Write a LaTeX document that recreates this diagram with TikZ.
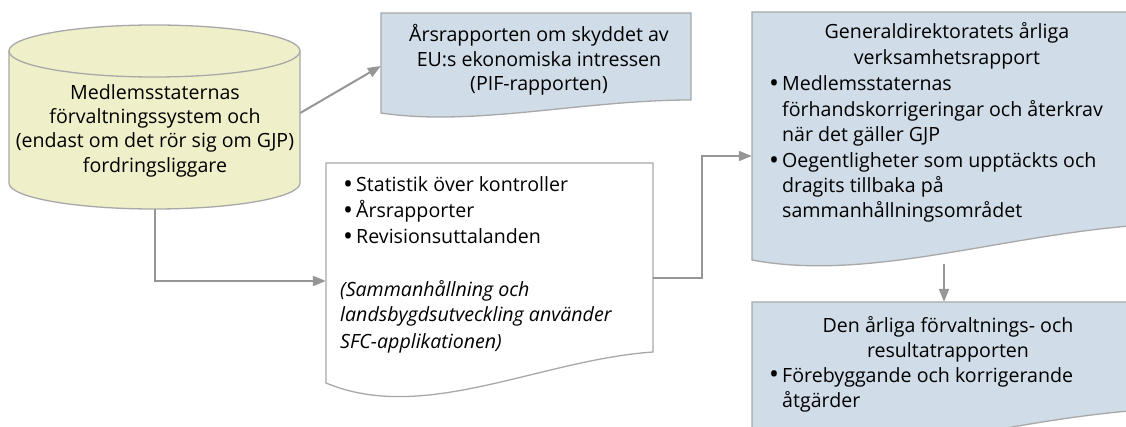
\documentclass[tikz,border=0pt]{standalone}
\usepackage{fontspec}
\setmainfont{Open Sans}
\usetikzlibrary{arrows.meta}
\definecolor{bd}{RGB}{168,168,168}
\definecolor{ac}{RGB}{150,150,150}
\definecolor{ylw}{RGB}{239,239,201}
\definecolor{blu}{RGB}{208,220,231}
\newcommand\bul{\makebox[13pt][l]{\raisebox{-1.8pt}{\scalebox{1.35}{\textbullet}}}}
\begin{document}
\begin{tikzpicture}[x=1pt,y=-1pt,
  txt/.style={inner sep=0pt, font=\fontsize{19.6}{24}\selectfont, text=black},
  shapeline/.style={draw=bd, line width=1.3pt},
  conn/.style={draw=ac, line width=2pt, -{Triangle[length=13pt,width=10pt]}},
  box/.style={inner sep=0pt, draw=none}]
\useasboundingbox (0,0) rectangle (1126,427);
% cylinder
\fill[ylw] (9,51) -- (9,183) arc[start angle=180, end angle=360, x radius=145.5pt, y radius=26pt] -- (300,51) -- cycle;
\fill[ylw] (154.5,51) ellipse [x radius=145.5pt, y radius=26pt];
\draw[shapeline] (9,51) -- (9,183) arc[start angle=180, end angle=360, x radius=145.5pt, y radius=26pt] -- (300,51);
\draw[shapeline] (154.5,51) ellipse [x radius=145.5pt, y radius=26pt];
% document shapes
\filldraw[shapeline, fill=blu] (381,113) -- (381,13) -- (691,13) -- (691,100) .. controls (582,100) and (474,127) .. (381,113) -- cycle;
\filldraw[shapeline, fill=white] (326,383) -- (326,163) -- (653,163) -- (653,352) .. controls (539,360) and (424,424) .. (326,383) -- cycle;
\filldraw[shapeline, fill=blu] (752,260) -- (752,12) -- (1142,12) -- (1142,225) .. controls (1000,235) and (869,282) .. (752,260) -- cycle;
\filldraw[shapeline, fill=blu] (752,445) -- (752,302) -- (1142,302) -- (1142,410) .. controls (1000,420) and (869,467) .. (752,445) -- cycle;
% anchor nodes
\node[box, minimum width=291pt, minimum height=192pt] (db) at (154.5,113) {};
\node[box, minimum width=310pt, minimum height=106pt] (pif) at (536,66) {};
\node[box, minimum width=327pt, minimum height=234pt] (mid) at (489.5,279) {};
\node[box, minimum width=390pt, minimum height=288pt] (gd) at (947,156) {};
\node[box, minimum width=390pt, minimum height=143pt] (daf) at (947,373.5) {};
\coordinate (gdb) at (944,264);
% connectors
\draw[conn] (db.east) -- (pif.west);
\draw[conn] (db.south) |- ([yshift=-2pt]mid.west);
\draw[conn] ([yshift=1pt]mid.east) -- ++(49,0) |- (gd.west);
\draw[conn] (gdb) -- (gdb |- daf.north);
% cylinder text
\node[txt, anchor=base] (c1) at (155,100) {Medlemsstaternas};
\node[txt, anchor=base] (c2) at (155,124) {förvaltningssystem och};
\node[txt, anchor=base] (c3) at (155,148) {(endast om det rör sig om GJP)};
\node[txt, anchor=base] (c4) at (155,172.5) {fordringsliggare};
% PIF text
\node[txt, anchor=base] (p1) at (539,42) {Årsrapporten om skyddet av};
\node[txt, anchor=base] (p2) at (539,67) {EU:s ekonomiska intressen};
\node[txt, anchor=base] (p3) at (539,91) {(PIF-rapporten)};
% middle text
\node[txt, anchor=base west] (m1) at (343,192) {\bul Statistik över kontroller};
\node[txt, anchor=base west] (m2) at (343,218) {\bul Årsrapporter};
\node[txt, anchor=base west] (m3) at (343,244) {\bul Revisionsuttalanden};
\node[txt, anchor=base west] (m4) at (340,297) {\itshape (Sammanhållning och};
\node[txt, anchor=base west] (m5) at (340,322) {\itshape landsbygdsutveckling använder};
\node[txt, anchor=base west] (m6) at (340,348) {\itshape SFC-applikationen)};
% GD text
\node[txt, anchor=base] (g1) at (947,39) {Generaldirektoratets årliga};
\node[txt, anchor=base] (g2) at (947,65) {verksamhetsrapport};
\node[txt, anchor=base west] (g3) at (769,91) {\bul Medlemsstaternas};
\node[txt, anchor=base west] (g4) at (782,117) {förhandskorrigeringar och återkrav};
\node[txt, anchor=base west] (g5) at (782,142) {när det gäller GJP};
\node[txt, anchor=base west] (g6) at (769,168) {\bul Oegentligheter som upptäckts och};
\node[txt, anchor=base west] (g7) at (782,193) {dragits tillbaka på};
\node[txt, anchor=base west] (g8) at (782,218) {sammanhållningsområdet};
% DAF text
\node[txt, anchor=base] (d1) at (948,332) {Den årliga förvaltnings- och};
\node[txt, anchor=base] (d2) at (948,357) {resultatrapporten};
\node[txt, anchor=base west] (d3) at (769,382) {\bul Förebyggande och korrigerande};
\node[txt, anchor=base west] (d4) at (782,407) {åtgärder};
\end{tikzpicture}
\end{document}
